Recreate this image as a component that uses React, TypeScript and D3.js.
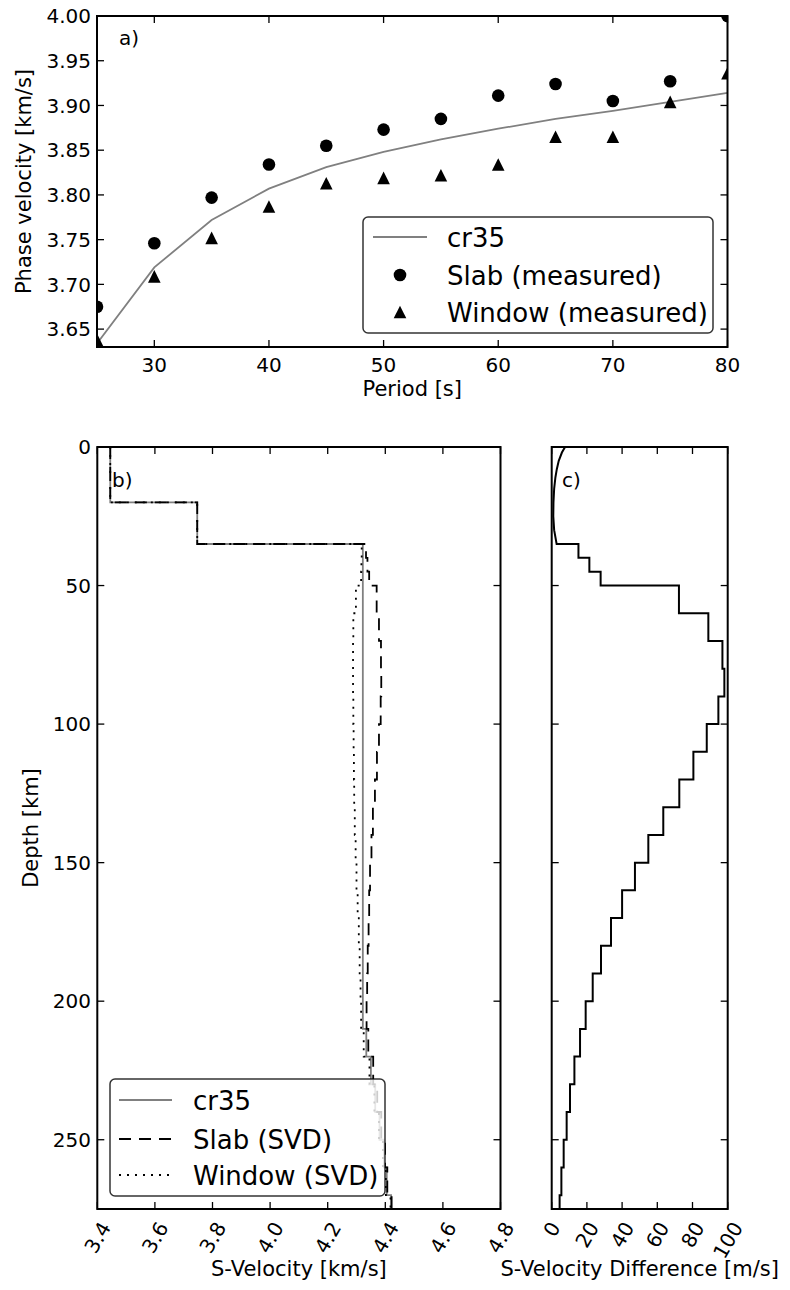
import React, { useEffect, useRef } from 'react';
import * as d3 from 'd3';

// a) phase velocity dispersion
const periods = [25, 30, 35, 40, 45, 50, 55, 60, 65, 70, 75, 80];
const cr35Phase = [3.634, 3.719, 3.772, 3.807, 3.831, 3.848, 3.862, 3.874, 3.885, 3.894, 3.904, 3.914];
const slabPhase = [3.675, 3.746, 3.797, 3.834, 3.855, 3.873, 3.885, 3.911, 3.924, 3.905, 3.927, 4.0];
const windowPhase = [3.638, 3.709, 3.752, 3.787, 3.813, 3.819, 3.822, 3.834, 3.865, 3.865, 3.904, 3.936];
const periodTicks = [30, 40, 50, 60, 70, 80];
const phaseTicks = [3.65, 3.7, 3.75, 3.8, 3.85, 3.9, 3.95, 4.0];

// b) layered S-velocity models
const crustBounds = [0, 20, 35];
const cr35Crust = [3.445, 3.747];
const slabCrust = [3.445, 3.747];
const windowCrust = [3.445, 3.747];
const mantleBounds = [35, 40, 45, 50, 60, 70, 80, 90, 100, 110, 120, 130, 140, 150, 160, 170, 180, 190, 200, 210, 220, 230, 240, 250, 260, 270, 275];
const cr35Mantle = [4.322, 4.322, 4.322, 4.322, 4.322, 4.322, 4.322, 4.322, 4.322, 4.322, 4.322, 4.322, 4.322, 4.322, 4.322, 4.322, 4.322, 4.322, 4.322, 4.334, 4.35, 4.365, 4.38, 4.395, 4.405, 4.42];
const slabMantle = [4.333, 4.338, 4.344, 4.37, 4.378, 4.385, 4.386, 4.384, 4.378, 4.371, 4.364, 4.357, 4.352, 4.347, 4.344, 4.342, 4.339, 4.337, 4.335, 4.341, 4.358, 4.372, 4.386, 4.399, 4.407, 4.422];
const windowMantle = [4.318, 4.317, 4.316, 4.298, 4.289, 4.288, 4.288, 4.289, 4.29, 4.291, 4.292, 4.294, 4.297, 4.3, 4.304, 4.308, 4.311, 4.314, 4.316, 4.325, 4.345, 4.362, 4.378, 4.392, 4.402, 4.418];
const velTicks = [3.4, 3.6, 3.8, 4.0, 4.2, 4.4, 4.6, 4.8];
const depthTicks = [0, 50, 100, 150, 200, 250];

// c) slab - window difference
const diffTopDepth = [0, 2, 5, 8, 11, 15, 20, 25, 30, 35];
const diffTop = [7.6, 5.8, 4.0, 2.9, 2.1, 1.4, 1.0, 0.9, 1.4, 2.8];
const diffMantle = [15.2, 21.4, 27.8, 72.3, 89.0, 97.0, 98.1, 94.7, 88.1, 80.5, 72.5, 63.4, 54.9, 47.3, 40.0, 33.7, 28.0, 23.3, 19.3, 16.1, 12.9, 10.4, 8.5, 6.8, 5.5, 4.5];
const diffTicks = [0, 20, 40, 60, 80, 100];

const FONT = '"DejaVu Sans", Verdana, sans-serif';
const GRAY = '#808080';
const TICK = 7;

const steps = (bounds: number[], vals: number[]) =>
  vals.flatMap((v, i) => [[v, bounds[i]], [v, bounds[i + 1]]]);

export default function App() {
  const ref = useRef<SVGSVGElement>(null);

  useEffect(() => {
    const svg = d3.select(ref.current);
    svg.selectAll('*').remove();
    const defs = svg.append('defs');

    const txt = (g: any, x: number, y: number, s: string, size: number, anchor = 'start') =>
      g.append('text')
        .attr('x', x).attr('y', y)
        .attr('font-size', size).attr('font-family', FONT)
        .attr('text-anchor', anchor).attr('fill', '#000')
        .text(s);

    const frame = (g: any, x0: number, y0: number, x1: number, y1: number) =>
      g.append('rect').attr('x', x0).attr('y', y0).attr('width', x1 - x0).attr('height', y1 - y0)
        .attr('fill', 'none').attr('stroke', '#000').attr('stroke-width', 2);

    const tick = (g: any, x1: number, y1: number, x2: number, y2: number) =>
      g.append('line').attr('x1', x1).attr('y1', y1).attr('x2', x2).attr('y2', y2)
        .attr('stroke', '#000').attr('stroke-width', 1.3);

    const clip = (id: string, x0: number, y0: number, x1: number, y1: number) =>
      defs.append('clipPath').attr('id', id).append('rect')
        .attr('x', x0).attr('y', y0).attr('width', x1 - x0).attr('height', y1 - y0);

    const rotLabel = (g: any, x: number, top: number, s: string, size: number) => {
      const t = g.append('text').attr('font-size', size).attr('font-family', FONT)
        .attr('text-anchor', 'end').attr('fill', '#000').text(s);
      const w = (t.node() as SVGTextElement).getComputedTextLength();
      const h = 0.73 * size;
      t.attr('transform', `translate(${x + 0.25 * w + 0.433 * h},${top + 0.5 * h}) rotate(-60)`);
    };

    const legendBox = (g: any, x: number, y: number, w: number, h: number) =>
      g.append('rect').attr('x', x).attr('y', y).attr('width', w).attr('height', h)
        .attr('rx', 5).attr('ry', 5)
        .attr('fill', '#fff').attr('fill-opacity', 0.8)
        .attr('stroke', '#000').attr('stroke-opacity', 0.8).attr('stroke-width', 1.5);

    const triPath = (r: number) => `M0,${-r}L${-r},${r}L${r},${r}Z`;

    // ---------------- panel a ----------------
    const A = { l: 97, r: 727.5, t: 16, b: 347 };
    const ax = d3.scaleLinear().domain([25, 80]).range([A.l, A.r]);
    const ay = d3.scaleLinear().domain([3.63, 4.0]).range([A.b, A.t]);
    clip('clipA', A.l, A.t, A.r, A.b);
    const ga = svg.append('g');
    const plotA = ga.append('g').attr('clip-path', 'url(#clipA)');

    const phaseLine = d3.line<number>().x((_, i) => ax(periods[i])).y((d) => ay(d));
    plotA.append('path').attr('d', phaseLine(cr35Phase))
      .attr('fill', 'none').attr('stroke', GRAY).attr('stroke-width', 1.8);

    plotA.selectAll('.slab').data(slabPhase).enter().append('circle')
      .attr('cx', (_, i) => ax(periods[i])).attr('cy', (d) => ay(d))
      .attr('r', 6.3).attr('fill', '#000');

    plotA.selectAll('.win').data(windowPhase).enter().append('path')
      .attr('d', triPath(6.3))
      .attr('transform', (d, i) => `translate(${ax(periods[i])},${ay(d)})`)
      .attr('fill', '#000');

    frame(ga, A.l, A.t, A.r, A.b);
    periodTicks.forEach((p) => {
      tick(ga, ax(p), A.b, ax(p), A.b - TICK);
      tick(ga, ax(p), A.t, ax(p), A.t + TICK);
      txt(ga, ax(p), 372, String(p), 20, 'middle');
    });
    phaseTicks.forEach((v) => {
      tick(ga, A.l, ay(v), A.l + TICK, ay(v));
      tick(ga, A.r, ay(v), A.r - TICK, ay(v));
      txt(ga, 91, ay(v) + 7.3, v.toFixed(2), 20, 'end');
    });
    txt(ga, (A.l + A.r) / 2, 396, 'Period [s]', 21, 'middle');
    txt(ga, 0, 0, 'Phase velocity [km/s]', 21, 'middle')
      .attr('transform', `translate(31,${(A.t + A.b) / 2}) rotate(-90)`);
    txt(ga, 119, 45, 'a)', 20);

    legendBox(ga, 363, 217, 350, 116);
    ga.append('line').attr('x1', 373).attr('x2', 427).attr('y1', 237).attr('y2', 237)
      .attr('stroke', GRAY).attr('stroke-width', 1.8);
    txt(ga, 447, 237 + 9.5, 'cr35', 26);
    ga.append('circle').attr('cx', 400).attr('cy', 275).attr('r', 6.3).attr('fill', '#000');
    txt(ga, 447, 275 + 9.5, 'Slab (measured)', 26);
    ga.append('path').attr('d', triPath(6.3)).attr('transform', 'translate(400,312)').attr('fill', '#000');
    txt(ga, 447, 312 + 9.5, 'Window (measured)', 26);

    // ---------------- panel b ----------------
    const B = { l: 97.3, r: 500.5, t: 447, b: 1209 };
    const bx = d3.scaleLinear().domain([3.4, 4.8]).range([B.l, B.r]);
    const by = d3.scaleLinear().domain([0, 275]).range([B.t, B.b]);
    clip('clipB', B.l, B.t, B.r, B.b);
    const gb = svg.append('g');
    const plotB = gb.append('g').attr('clip-path', 'url(#clipB)');
    const profile = d3.line<number[]>().x((p) => bx(p[0])).y((p) => by(p[1]));

    const models = [
      { crust: cr35Crust, mantle: cr35Mantle, color: GRAY, dash: null },
      { crust: slabCrust, mantle: slabMantle, color: '#000', dash: '12,8' },
      { crust: windowCrust, mantle: windowMantle, color: '#000', dash: '2,6' },
    ];
    models.forEach((m) => {
      const pts = [...steps(crustBounds, m.crust), ...steps(mantleBounds, m.mantle)];
      plotB.append('path').attr('d', profile(pts))
        .attr('fill', 'none').attr('stroke', m.color).attr('stroke-width', 1.8)
        .attr('stroke-dasharray', m.dash);
    });

    frame(gb, B.l, B.t, B.r, B.b);
    velTicks.forEach((v) => {
      tick(gb, bx(v), B.b, bx(v), B.b - TICK);
      tick(gb, bx(v), B.t, bx(v), B.t + TICK);
      rotLabel(gb, bx(v), 1220, v.toFixed(1), 20);
    });
    depthTicks.forEach((d) => {
      tick(gb, B.l, by(d), B.l + TICK, by(d));
      tick(gb, B.r, by(d), B.r - TICK, by(d));
      txt(gb, 91, by(d) + 7.3, String(d), 20, 'end');
    });
    txt(gb, (B.l + B.r) / 2, 1276, 'S-Velocity [km/s]', 21, 'middle');
    txt(gb, 0, 0, 'Depth [km]', 21, 'middle')
      .attr('transform', `translate(38,${(B.t + B.b) / 2}) rotate(-90)`);
    txt(gb, 112, 487, 'b)', 20);

    legendBox(gb, 110, 1079, 275, 117);
    const legB = [
      { y: 1100, label: 'cr35', color: GRAY, dash: null },
      { y: 1139, label: 'Slab (SVD)', color: '#000', dash: '12,8' },
      { y: 1175, label: 'Window (SVD)', color: '#000', dash: '2,6' },
    ];
    legB.forEach((e) => {
      gb.append('line').attr('x1', 119).attr('x2', 172).attr('y1', e.y).attr('y2', e.y)
        .attr('stroke', e.color).attr('stroke-width', 1.8).attr('stroke-dasharray', e.dash);
      txt(gb, 193, e.y + 9.5, e.label, 26);
    });

    // ---------------- panel c ----------------
    const C = { l: 551.7, r: 727.7, t: 447, b: 1209 };
    const cx = d3.scaleLinear().domain([0, 100]).range([C.l, C.r]);
    const cy = by;
    clip('clipC', C.l, C.t, C.r, C.b);
    const gc = svg.append('g');
    const plotC = gc.append('g').attr('clip-path', 'url(#clipC)');
    const diffPts = [
      ...diffTopDepth.map((d, i) => [diffTop[i], d]),
      ...steps(mantleBounds, diffMantle),
    ];
    plotC.append('path')
      .attr('d', d3.line<number[]>().x((p) => cx(p[0])).y((p) => cy(p[1]))(diffPts))
      .attr('fill', 'none').attr('stroke', '#000').attr('stroke-width', 2);

    frame(gc, C.l, C.t, C.r, C.b);
    diffTicks.forEach((v) => {
      tick(gc, cx(v), C.b, cx(v), C.b - TICK);
      tick(gc, cx(v), C.t, cx(v), C.t + TICK);
      rotLabel(gc, cx(v), 1220, String(v), 20);
    });
    depthTicks.forEach((d) => {
      tick(gc, C.l, cy(d), C.l + TICK, cy(d));
      tick(gc, C.r, cy(d), C.r - TICK, cy(d));
    });
    txt(gc, (C.l + C.r) / 2, 1276, 'S-Velocity Difference [m/s]', 21, 'middle');
    txt(gc, 562, 487, 'c)', 20);
  }, []);

  return (
    <svg
      ref={ref}
      width={790}
      height={1290}
      style={{ position: 'absolute', left: 0, top: 0, background: '#fff' }}
    />
  );
}
